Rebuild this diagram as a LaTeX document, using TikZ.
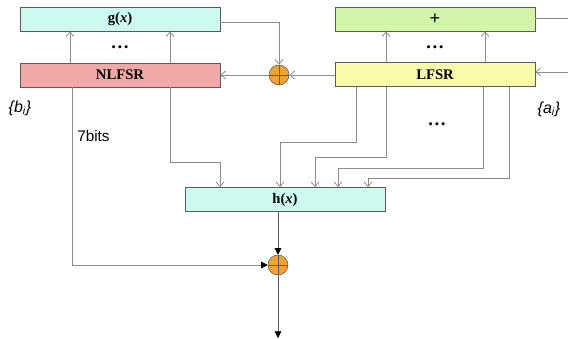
\documentclass[tikz,border=0pt]{standalone}
\usepackage{fontspec}
\setmainfont{Liberation Serif}
\setsansfont{Liberation Sans}
\usetikzlibrary{arrows.meta,calc}

\definecolor{gfill}{RGB}{204,250,240}
\definecolor{nlfill}{RGB}{240,168,168}
\definecolor{pfill}{RGB}{210,245,170}
\definecolor{lfill}{RGB}{250,250,170}
\definecolor{xorfill}{RGB}{240,162,50}
\definecolor{wiregray}{RGB}{140,140,140}
\definecolor{edgegray}{RGB}{90,90,90}

\tikzset{
  reg/.style={draw=edgegray, line width=0.6pt, minimum width=150pt, minimum height=18pt, inner sep=0pt, font=\bfseries\fontsize{11}{13}\selectfont},
  xorgate/.style={circle, draw=edgegray, fill=xorfill, minimum size=15pt, inner sep=0pt,
    path picture={\draw[edgegray, line width=0.5pt] (path picture bounding box.north) -- (path picture bounding box.south) (path picture bounding box.west) -- (path picture bounding box.east);}},
  wire/.style={draw=wiregray, line width=0.6pt, -{Straight Barb[length=3.5pt,width=6pt]}},
  outwire/.style={draw=black!65, line width=0.6pt, -{Triangle[length=5pt,width=5pt,color=black]}},
  lbl/.style={font=\sffamily\fontsize{11.5}{13}\selectfont, inner sep=0.75pt},
  gap/.style={font=\bfseries\fontsize{14}{16}\selectfont, inner sep=0pt},
}

\begin{document}
\begin{tikzpicture}[x=0.75pt,y=0.75pt,yscale=-1,xscale=1]
\useasboundingbox (0,0) rectangle (568,339);

%Registers
\node[reg, fill=gfill] (g) at (120,19) {g(\textit{x})};
\node[reg, fill=nlfill] (nlfsr) at (120,75) {NLFSR};
\node[reg, fill=pfill] (plus) at (435,19) {\fontsize{14}{16}\selectfont +};
\node[reg, fill=lfill] (lfsr) at (435,74.5) {LFSR};
\node[reg, fill=gfill] (h) at (285,199.5) {h(\textit{x})};
%Xor gates
\node[xorgate] (xa) at (279,75) {};
\node[xorgate] (xb) at (278,265) {};
%Loose ends
\coordinate (fbout) at (568,18);
\coordinate (fbin) at (568,72);
\coordinate (zout) at (278,338);

%Taps up
\foreach \t in {70,170} \draw[wire] (nlfsr.north -| \t,0) -- (g.south -| \t,0);
\foreach \t in {386,485} \draw[wire] (lfsr.north -| \t,0) -- (plus.south -| \t,0);
%Feedback
\draw[wire] ($(g.east)+(0,3)$) -| (xa.north);
\draw[wire] (xa -| lfsr.west) -- (xa.east);
\draw[wire] (xa.west) -- (xa -| nlfsr.east);
\draw[wire, -] (fbout -| plus.east) -- (fbout);
\draw[wire] (fbin) -- (fbin -| lfsr.east);
%Taps down to h
\draw[wire] (nlfsr.south -| 170,0) -- (170,162) -| (h.north -| 220,0);
\foreach \s/\y/\e in {356/142/280, 386/157/315, 483/168/338, 509/178/368}
  \draw[wire] (lfsr.south -| \s,0) -- (\s,\y) -| (h.north -| \e,0);
%Output
\draw[outwire, draw=wiregray] (nlfsr.south -| 72,0) |- (xb.west);
\draw[outwire] (h.south -| xb) -- (xb.north);
\draw[outwire] (xb.south) -- (zout);

% Text Node
\node[gap] (gdots) at (120,47) {\dots};
\node[gap] (pdots) at (435,47) {\dots};
\node[gap] (hdots) at (437,124) {\dots};
\node[lbl, font=\sffamily\itshape\fontsize{12}{14}\selectfont] (bset) at (20,108) {\{b\textsubscript{i}\}};
\node[lbl, font=\sffamily\itshape\fontsize{12}{14}\selectfont] (aset) at (549,109) {\{a\textsubscript{i}\}};
\node[lbl, anchor=west] (bits) at (76,136) {7bits};

\end{tikzpicture}
\end{document}
